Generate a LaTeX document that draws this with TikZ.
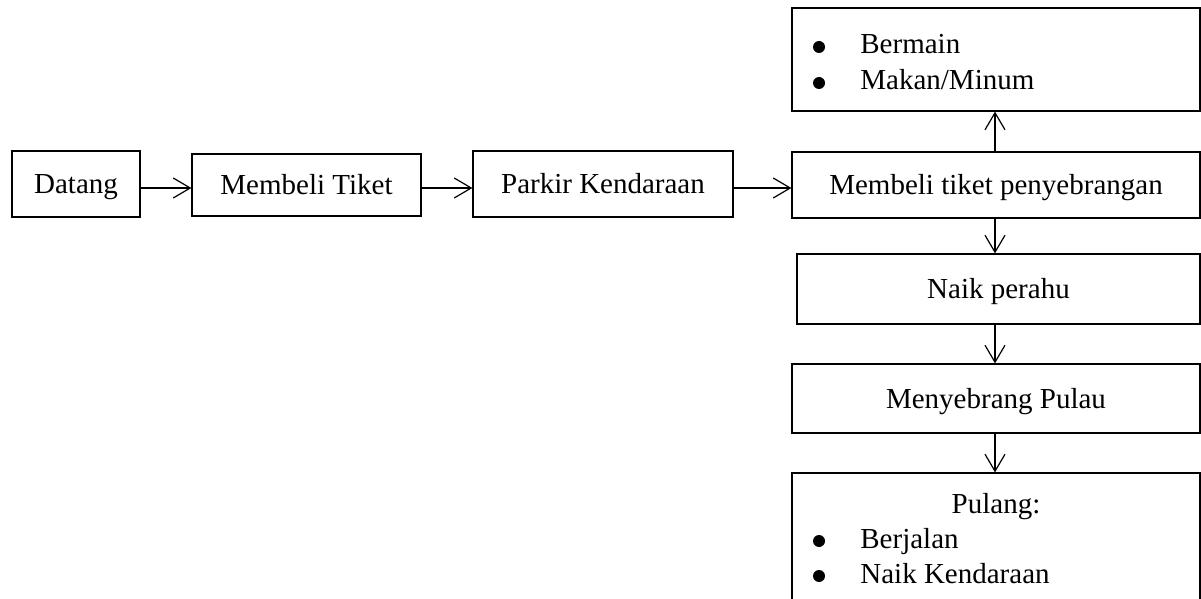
\documentclass[tikz,border=0pt]{standalone}
\usepackage{fontspec}
\setmainfont{Liberation Serif}
\usetikzlibrary{arrows.meta}
\begin{document}
\begin{tikzpicture}[x=0.5pt,y=-0.5pt,
  box/.style={draw, line width=0.6pt, inner sep=0pt, text height=10pt, text depth=0pt,
    font=\fontsize{14.5}{17.5}\selectfont},
  arr/.style={line width=0.6pt, -{Straight Barb[length=8.5pt,width=10pt,line width=0.6pt]}},
  txt/.style={inner sep=0pt, anchor=base west, font=\fontsize{14.5}{17.5}\selectfont},
  dot/.style={circle, fill=black, inner sep=0pt, minimum size=6pt}]
  \clip (0,0) rectangle (1201,599);
  \fill[white] (0,0) rectangle (1201,599);

  % main row
  \node[box, minimum width=64pt, minimum height=33pt] (datang) at (76,184) {Datang};
  \node[box, minimum width=114.5pt, minimum height=31pt] (beli) at (306.5,185) {Membeli Tiket};
  \node[box, minimum width=130pt, minimum height=33pt] (parkir) at (603,184) {Parkir Kendaraan};
  \node[box, minimum width=204pt, minimum height=33pt] (tiket) at (996,185) {Membeli tiket penyebrangan};

  % activities above the ticket booth
  \node[box, minimum width=204pt, minimum height=51.5pt] (aktivitas) at (996,59.5) {};
  \node[dot] (b1) at (819,47) {};
  \node[txt] (t1) at (860,54) {Bermain};
  \node[dot] (b2) at (819,83) {};
  \node[txt] (t2) at (860,90) {Makan/Minum};

  % crossing column
  \node[box, minimum width=201.5pt, minimum height=35pt] (perahu) at (998.5,289) {Naik perahu};
  \node[box, minimum width=204pt, minimum height=34.5pt] (pulau) at (996,398.5) {Menyebrang Pulau};
  \node[box, minimum width=204pt, minimum height=90pt] (pulang) at (996,563) {};
  \node[txt, anchor=base] (tp) at (996,513) {Pulang:};
  \node[dot] (b3) at (819,541) {};
  \node[txt] (t3) at (860,548) {Berjalan};
  \node[dot] (b4) at (819,576) {};
  \node[txt] (t4) at (860,583) {Naik Kendaraan};

  % connectors
  \coordinate (row) at (0,188);
  \coordinate (col) at (995,0);
  \draw[arr] (datang.east |- row) -- (beli.west |- row);
  \draw[arr] (beli.east |- row) -- (parkir.west |- row);
  \draw[arr] (parkir.east |- row) -- (tiket.west |- row);
  \draw[arr] (tiket.north -| col) -- (aktivitas.south -| col);
  \draw[arr] (tiket.south -| col) -- (perahu.north -| col);
  \draw[arr] (perahu.south -| col) -- (pulau.north -| col);
  \draw[arr] (pulau.south -| col) -- (pulang.north -| col);
\end{tikzpicture}
\end{document}
